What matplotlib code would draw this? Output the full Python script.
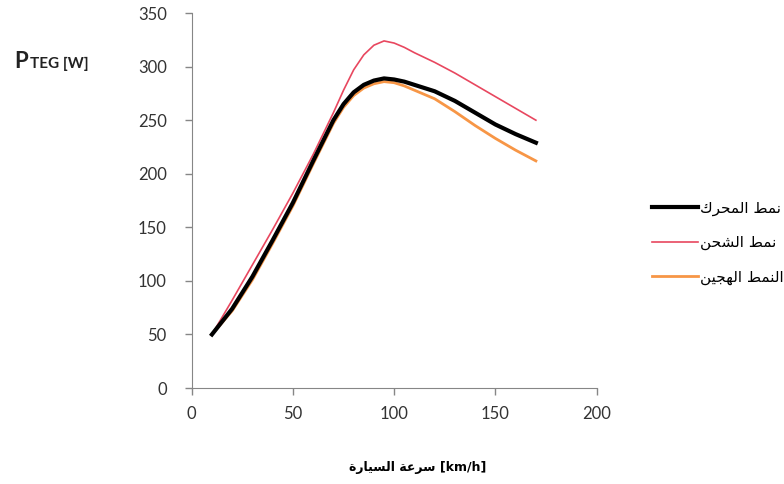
import matplotlib
matplotlib.use('Agg')
import matplotlib.pyplot as plt

# vehicle speed [km/h]
speed = [10, 20, 30, 40, 50, 60, 70, 75, 80, 85, 90, 95, 100, 105, 110,
         120, 130, 140, 150, 160, 170]
# P_TEG [W] for each mode
engine_mode = [50, 74, 104, 138, 173, 212, 250, 265, 276, 283, 287, 289, 288, 286, 283,
               277, 268, 257, 246, 237, 229]
charge_mode = [50, 82, 115, 148, 182, 218, 257, 278, 297, 311, 320, 324, 322, 318, 313,
               304, 294, 283, 272, 261, 250]
hybrid_mode = [50, 72, 101, 135, 170, 209, 247, 262, 273, 280, 284, 286, 285, 282, 278,
               270, 258, 245, 233, 222, 212]

labels = ['نمط المحرك', 'نمط الشحن', 'النمط الهجين']
xlabel_ar = 'سرعة السيارة'

# --- tiny arabic shaper (matplotlib has no bidi / joining support) ---
# letter: (isolated, final, initial, medial); None -> letter does not join forward
FORMS = {
    'ا': (0xFE8D, 0xFE8E, None, None),
    'ة': (0xFE93, 0xFE94, None, None),
    'ر': (0xFEAD, 0xFEAE, None, None),
    'ج': (0xFE9D, 0xFE9E, 0xFE9F, 0xFEA0),
    'ح': (0xFEA1, 0xFEA2, 0xFEA3, 0xFEA4),
    'س': (0xFEB1, 0xFEB2, 0xFEB3, 0xFEB4),
    'ش': (0xFEB5, 0xFEB6, 0xFEB7, 0xFEB8),
    'ط': (0xFEC1, 0xFEC2, 0xFEC3, 0xFEC4),
    'ع': (0xFEC9, 0xFECA, 0xFECB, 0xFECC),
    'ك': (0xFED9, 0xFEDA, 0xFEDB, 0xFEDC),
    'ل': (0xFEDD, 0xFEDE, 0xFEDF, 0xFEE0),
    'م': (0xFEE1, 0xFEE2, 0xFEE3, 0xFEE4),
    'ن': (0xFEE5, 0xFEE6, 0xFEE7, 0xFEE8),
    'ه': (0xFEE9, 0xFEEA, 0xFEEB, 0xFEEC),
    'ي': (0xFEF1, 0xFEF2, 0xFEF3, 0xFEF4),
}


def shape(s):
    out = []
    for i, c in enumerate(s):
        if c not in FORMS:
            out.append(c)
            continue
        prev = s[i - 1] if i > 0 else ''
        nxt = s[i + 1] if i < len(s) - 1 else ''
        join_prev = prev in FORMS and FORMS[prev][2] is not None
        join_next = nxt in FORMS and FORMS[c][2] is not None
        if join_prev and join_next:
            cp = FORMS[c][3]
        elif join_prev:
            cp = FORMS[c][1]
        elif join_next:
            cp = FORMS[c][2]
        else:
            cp = FORMS[c][0]
        out.append(chr(cp))
    return ''.join(out)[::-1]


plt.rcParams['font.family'] = ['Lato', 'DejaVu Sans']

fig = plt.figure(figsize=(7.84, 4.84), dpi=100)
ax = fig.add_axes([0.2445, 0.1983, 0.5165, 0.7747])

ax.plot(speed, engine_mode, color='black', lw=3, label=shape(labels[0]), zorder=3)
ax.plot(speed, charge_mode, color='#E8475F', lw=1.2, label=shape(labels[1]), zorder=2)
ax.plot(speed, hybrid_mode, color='#F79646', lw=2, label=shape(labels[2]), zorder=1)

ax.set_xlim(0, 200)
ax.set_ylim(0, 350)
ax.set_xticks(range(0, 201, 50))
ax.set_yticks(range(0, 351, 50))
for side in ['top', 'right']:
    ax.spines[side].set_visible(False)
for side in ['left', 'bottom']:
    ax.spines[side].set_color('#868686')
ax.tick_params(colors='#868686', length=5, width=1, labelcolor='#333333', labelsize=12)
ax.tick_params(axis='y', pad=13)
ax.tick_params(axis='x', pad=8)

leg = fig.legend(loc='upper left', bbox_to_anchor=(0.822, 1 - 193 / 484),
                 frameon=False, handlelength=3.0, handletextpad=0.15,
                 labelspacing=1.25, borderpad=0, prop={'family': 'DejaVu Sans', 'size': 11})

# y label  P_TEG [W]
ylab_y = 1 - 68 / 484
fig.text(14 / 784, ylab_y, 'P', fontsize=16, fontweight='bold', color='#222222')
fig.text(30 / 784, ylab_y, 'TEG [W]', fontsize=11, fontweight='bold', color='#222222')

fig.text(418 / 784, 1 - 467 / 484, shape(xlabel_ar) + ' [km/h]', ha='center', va='center',
         fontsize=9, fontweight='bold', family=['DejaVu Sans'])

fig.savefig('out.png', dpi=100)
